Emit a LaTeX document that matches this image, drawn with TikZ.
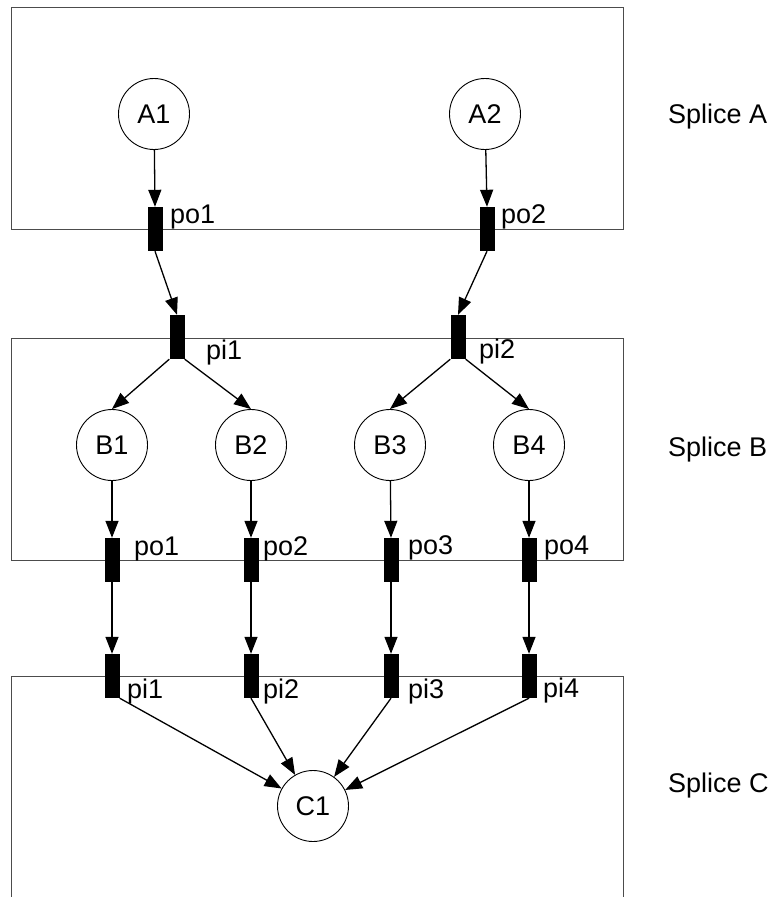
\documentclass[tikz,border=0pt]{standalone}
\usepackage{fontspec}
\setmainfont{Liberation Sans}
\usetikzlibrary{arrows.meta}
\begin{document}
\begin{tikzpicture}[x=1pt,y=-1pt,
  place/.style={circle,draw,line width=0.9pt,minimum size=71pt,inner sep=0pt,font=\fontsize{27}{30}\selectfont},
  port/.style={rectangle,fill=black,minimum width=15pt,minimum height=44pt,inner sep=0pt},
  lbl/.style={anchor=base west,inner sep=0pt,font=\fontsize{27}{30}\selectfont},
  frame/.style={draw=black!70,line width=1pt},
  arc/.style={line width=1.3pt,-{Triangle[length=17pt,width=13pt]}}]
\useasboundingbox (0,0) rectangle (778,897);
% splice frames
\draw[frame] (11,7) rectangle (623,229);
\draw[frame] (11,338) rectangle (623,560);
\draw[frame] (11,897) -- (11,676) -- (623,676) -- (623,897);
% places
\node[place] (A1) at (154,114) {A1};
\node[place] (A2) at (485,114) {A2};
\node[place] (B1) at (112,445) {B1};
\node[place] (B2) at (251,445) {B2};
\node[place] (B3) at (390,445) {B3};
\node[place] (B4) at (529,445) {B4};
\node[place] (C1) at (313,806) {C1};
% ports
\node[port] (poA1) at (155,229) {};
\node[port] (poA2) at (487,229) {};
\node[port] (piB1) at (177,337) {};
\node[port] (piB2) at (458,337) {};
\node[port] (poB1) at (112,560) {};
\node[port] (poB2) at (251,560) {};
\node[port] (poB3) at (391,560) {};
\node[port] (poB4) at (529,560) {};
\node[port] (piC1) at (112,676) {};
\node[port] (piC2) at (251,676) {};
\node[port] (piC3) at (391,676) {};
\node[port] (piC4) at (529,676) {};
% labels
\node[lbl] (lpoA1) at (170,223) {po1};
\node[lbl] (lpoA2) at (501,223) {po2};
\node[lbl] (lpiB1) at (206,359) {pi1};
\node[lbl] (lpiB2) at (479,358) {pi2};
\node[lbl] (lpoB1) at (134,555) {po1};
\node[lbl] (lpoB2) at (263,555) {po2};
\node[lbl] (lpoB3) at (408,554) {po3};
\node[lbl] (lpoB4) at (544,554) {po4};
\node[lbl] (lpiC1) at (127,698) {pi1};
\node[lbl] (lpiC2) at (263,698) {pi2};
\node[lbl] (lpiC3) at (408,698) {pi3};
\node[lbl] (lpiC4) at (543,697) {pi4};
\node[lbl] (sA) at (668,123) {Splice A};
\node[lbl] (sB) at (668,456) {Splice B};
\node[lbl] (sC) at (668,792) {Splice C};
% arcs
\draw[arc] (A1) -- (poA1.north);
\draw[arc] (A2) -- (poA2.north);
\draw[arc] (poA1.south) -- (piB1.north);
\draw[arc] (poA2.south) -- (piB2.north);
\draw[arc] (piB1.south west) -- (B1.north);
\draw[arc] (piB1.south east) -- (B2.north);
\draw[arc] (piB2.south west) -- (B3.north);
\draw[arc] (piB2.south east) -- (B4.north);
\draw[arc] (B1) -- (poB1.north);
\draw[arc] (B2) -- (poB2.north);
\draw[arc] (B3) -- (poB3.north);
\draw[arc] (B4) -- (poB4.north);
\draw[arc] (poB1.south) -- (piC1.north);
\draw[arc] (poB2.south) -- (piC2.north);
\draw[arc] (poB3.south) -- (piC3.north);
\draw[arc] (poB4.south) -- (piC4.north);
\draw[arc] (piC1.south east) -- (C1);
\draw[arc] (piC2.south) -- (C1);
\draw[arc] (piC3.south) -- (C1);
\draw[arc] (piC4.south) -- (C1);
\end{tikzpicture}
\end{document}
